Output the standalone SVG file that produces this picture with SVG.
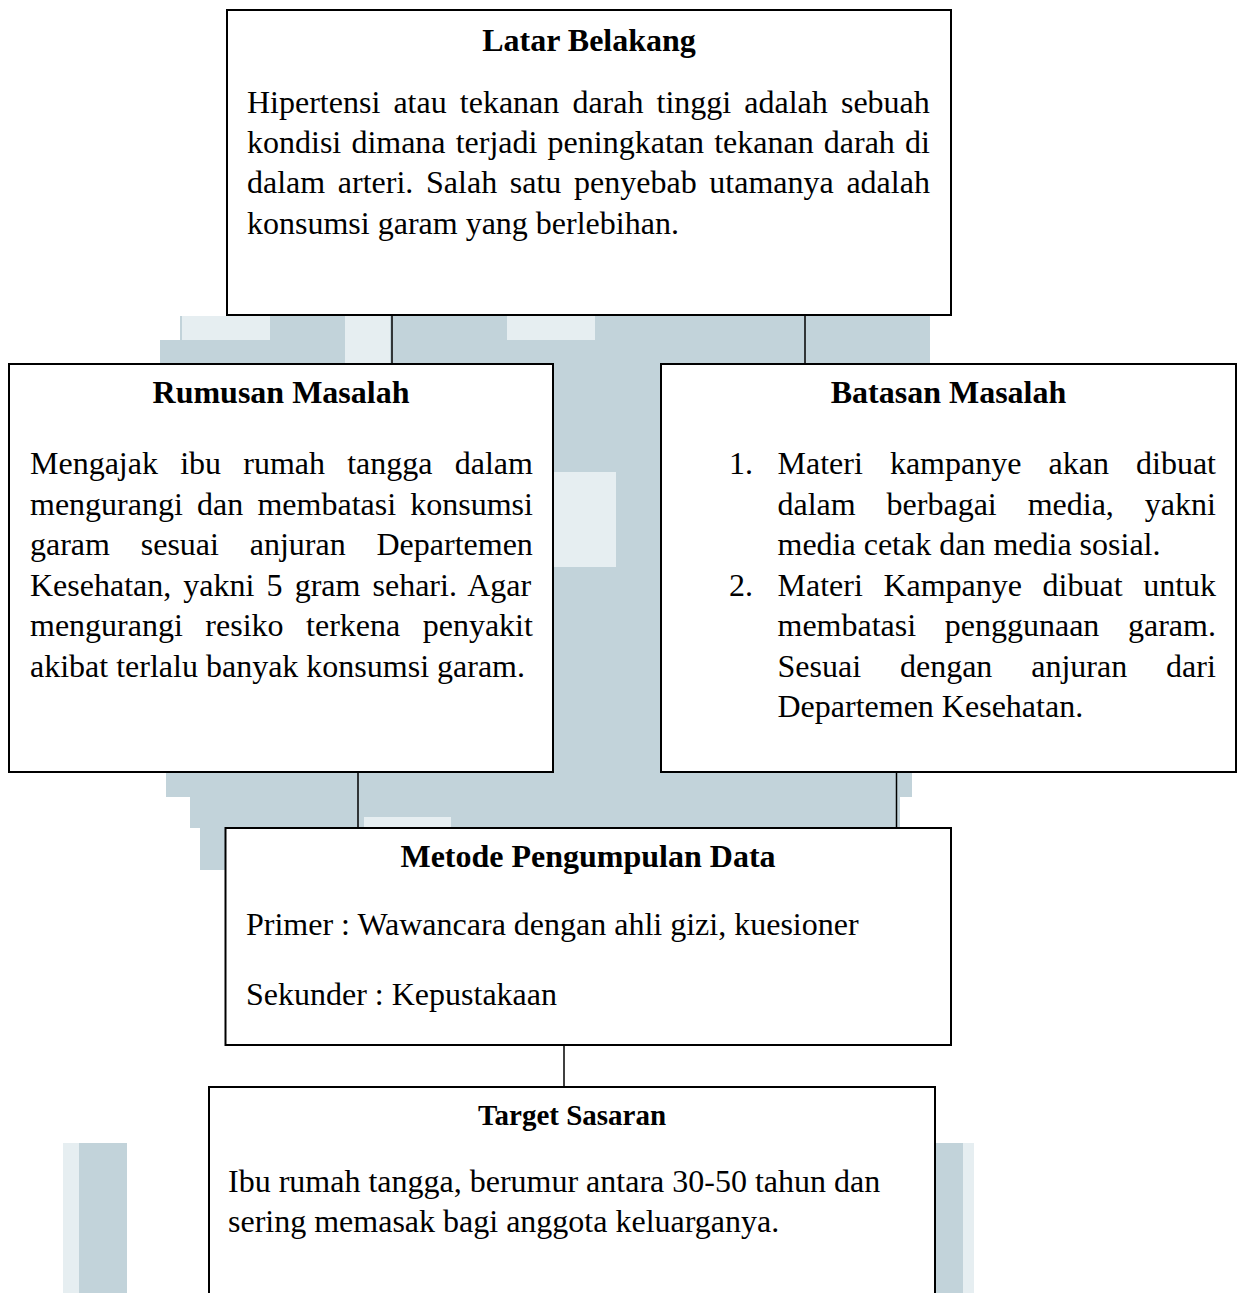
<svg xmlns="http://www.w3.org/2000/svg" width="1242" height="1293" viewBox="0 0 1242 1293">
<style>
.box{fill:#fff;stroke:#000;stroke-width:2}
.wm{fill:#c2d3da}
.wl{fill:#e6eef1}
.t{font-family:"Liberation Serif","Times New Roman",serif;font-size:32px;fill:#000}
.h{font-family:"Liberation Serif","Times New Roman",serif;font-size:32px;font-weight:bold;fill:#000;text-anchor:middle}
.h2{font-family:"Liberation Serif","Times New Roman",serif;font-size:29px;font-weight:bold;fill:#000;text-anchor:middle}
.ln{stroke:#000;stroke-width:1.5;fill:none}
</style>
<rect width="1242" height="1293" fill="#fff"/>
<g id="watermark">
<rect class="wm" x="160" y="340" width="25" height="24"/>
<rect class="wm" x="180" y="316" width="750" height="48"/>
<rect class="wl" x="182" y="316" width="88" height="24"/>
<rect class="wl" x="345" y="316" width="45" height="48"/>
<rect class="wl" x="507" y="316" width="88" height="24"/>
<rect class="wm" x="553" y="364" width="108" height="408"/>
<rect class="wl" x="554" y="472" width="62" height="95"/>
<rect class="wm" x="166" y="772" width="746" height="25"/>
<rect class="wm" x="190" y="797" width="710" height="31"/>
<rect class="wl" x="364" y="817" width="87" height="11"/>
<rect class="wm" x="200" y="828" width="25" height="42"/>
<rect class="wl" x="63" y="1143" width="16" height="150"/>
<rect class="wm" x="79" y="1143" width="48" height="150"/>
<rect class="wm" x="935" y="1143" width="28" height="150"/>
<rect class="wl" x="963" y="1143" width="11" height="150"/>
</g>
<g id="connectors">
<line class="ln" x1="392" y1="316" x2="392" y2="364"/>
<line class="ln" x1="805" y1="316" x2="805" y2="364"/>
<line class="ln" x1="358" y1="772" x2="358" y2="828"/>
<line class="ln" x1="896.5" y1="772" x2="896.5" y2="828"/>
<line class="ln" x1="564" y1="1037" x2="564" y2="1087"/>
</g>
<g id="latar-belakang">
<rect class="box" x="227" y="10" width="724" height="305"/>
<text class="h" x="589" y="51">Latar Belakang</text>
<text class="t" x="247" y="113" word-spacing="5.1">Hipertensi atau tekanan darah tinggi adalah sebuah</text>
<text class="t" x="247" y="153" word-spacing="2.15">kondisi dimana terjadi peningkatan tekanan darah di</text>
<text class="t" x="247" y="193" word-spacing="4.68">dalam arteri. Salah satu penyebab utamanya adalah</text>
<text class="t" x="247" y="234">konsumsi garam yang berlebihan.</text>
</g>
<g id="rumusan-masalah">
<rect class="box" x="9" y="364" width="544" height="408"/>
<text class="h" x="281" y="403">Rumusan Masalah</text>
<text class="t" x="30" y="474" word-spacing="14.2">Mengajak ibu rumah tangga dalam</text>
<text class="t" x="30" y="514.5" word-spacing="6.2">mengurangi dan membatasi konsumsi</text>
<text class="t" x="30" y="555" word-spacing="22.8">garam sesuai anjuran Departemen</text>
<text class="t" x="30" y="595.5" word-spacing="4.1">Kesehatan, yakni 5 gram sehari. Agar</text>
<text class="t" x="30" y="636" word-spacing="14.5">mengurangi resiko terkena penyakit</text>
<text class="t" x="30" y="676.5">akibat terlalu banyak konsumsi garam.</text>
</g>
<g id="batasan-masalah">
<rect class="box" x="661" y="364" width="575" height="408"/>
<text class="h" x="948.5" y="403">Batasan Masalah</text>
<text class="t" x="729" y="474">1.</text>
<text class="t" x="777.5" y="474" word-spacing="19.1">Materi kampanye akan dibuat</text>
<text class="t" x="777.5" y="514.5" word-spacing="22.9">dalam berbagai media, yakni</text>
<text class="t" x="777.5" y="555">media cetak dan media sosial.</text>
<text class="t" x="729" y="595.5">2.</text>
<text class="t" x="777.5" y="595.5" word-spacing="12.6">Materi Kampanye dibuat untuk</text>
<text class="t" x="777.5" y="636" word-spacing="20.6">membatasi penggunaan garam.</text>
<text class="t" x="777.5" y="676.5" word-spacing="30.9">Sesuai dengan anjuran dari</text>
<text class="t" x="777.5" y="717">Departemen Kesehatan.</text>
</g>
<g id="metode-pengumpulan-data">
<rect class="box" x="225.5" y="828" width="725.5" height="217"/>
<text class="h" x="588" y="867">Metode Pengumpulan Data</text>
<text class="t" x="246" y="935">Primer : Wawancara dengan ahli gizi, kuesioner</text>
<text class="t" x="246" y="1005">Sekunder : Kepustakaan</text>
</g>
<g id="target-sasaran">
<rect class="box" x="209" y="1087" width="726" height="220"/>
<text class="h2" x="572" y="1125">Target Sasaran</text>
<text class="t" x="228" y="1192">Ibu rumah tangga, berumur antara 30-50 tahun dan</text>
<text class="t" x="228" y="1232">sering memasak bagi anggota keluarganya.</text>
</g>
</svg>
